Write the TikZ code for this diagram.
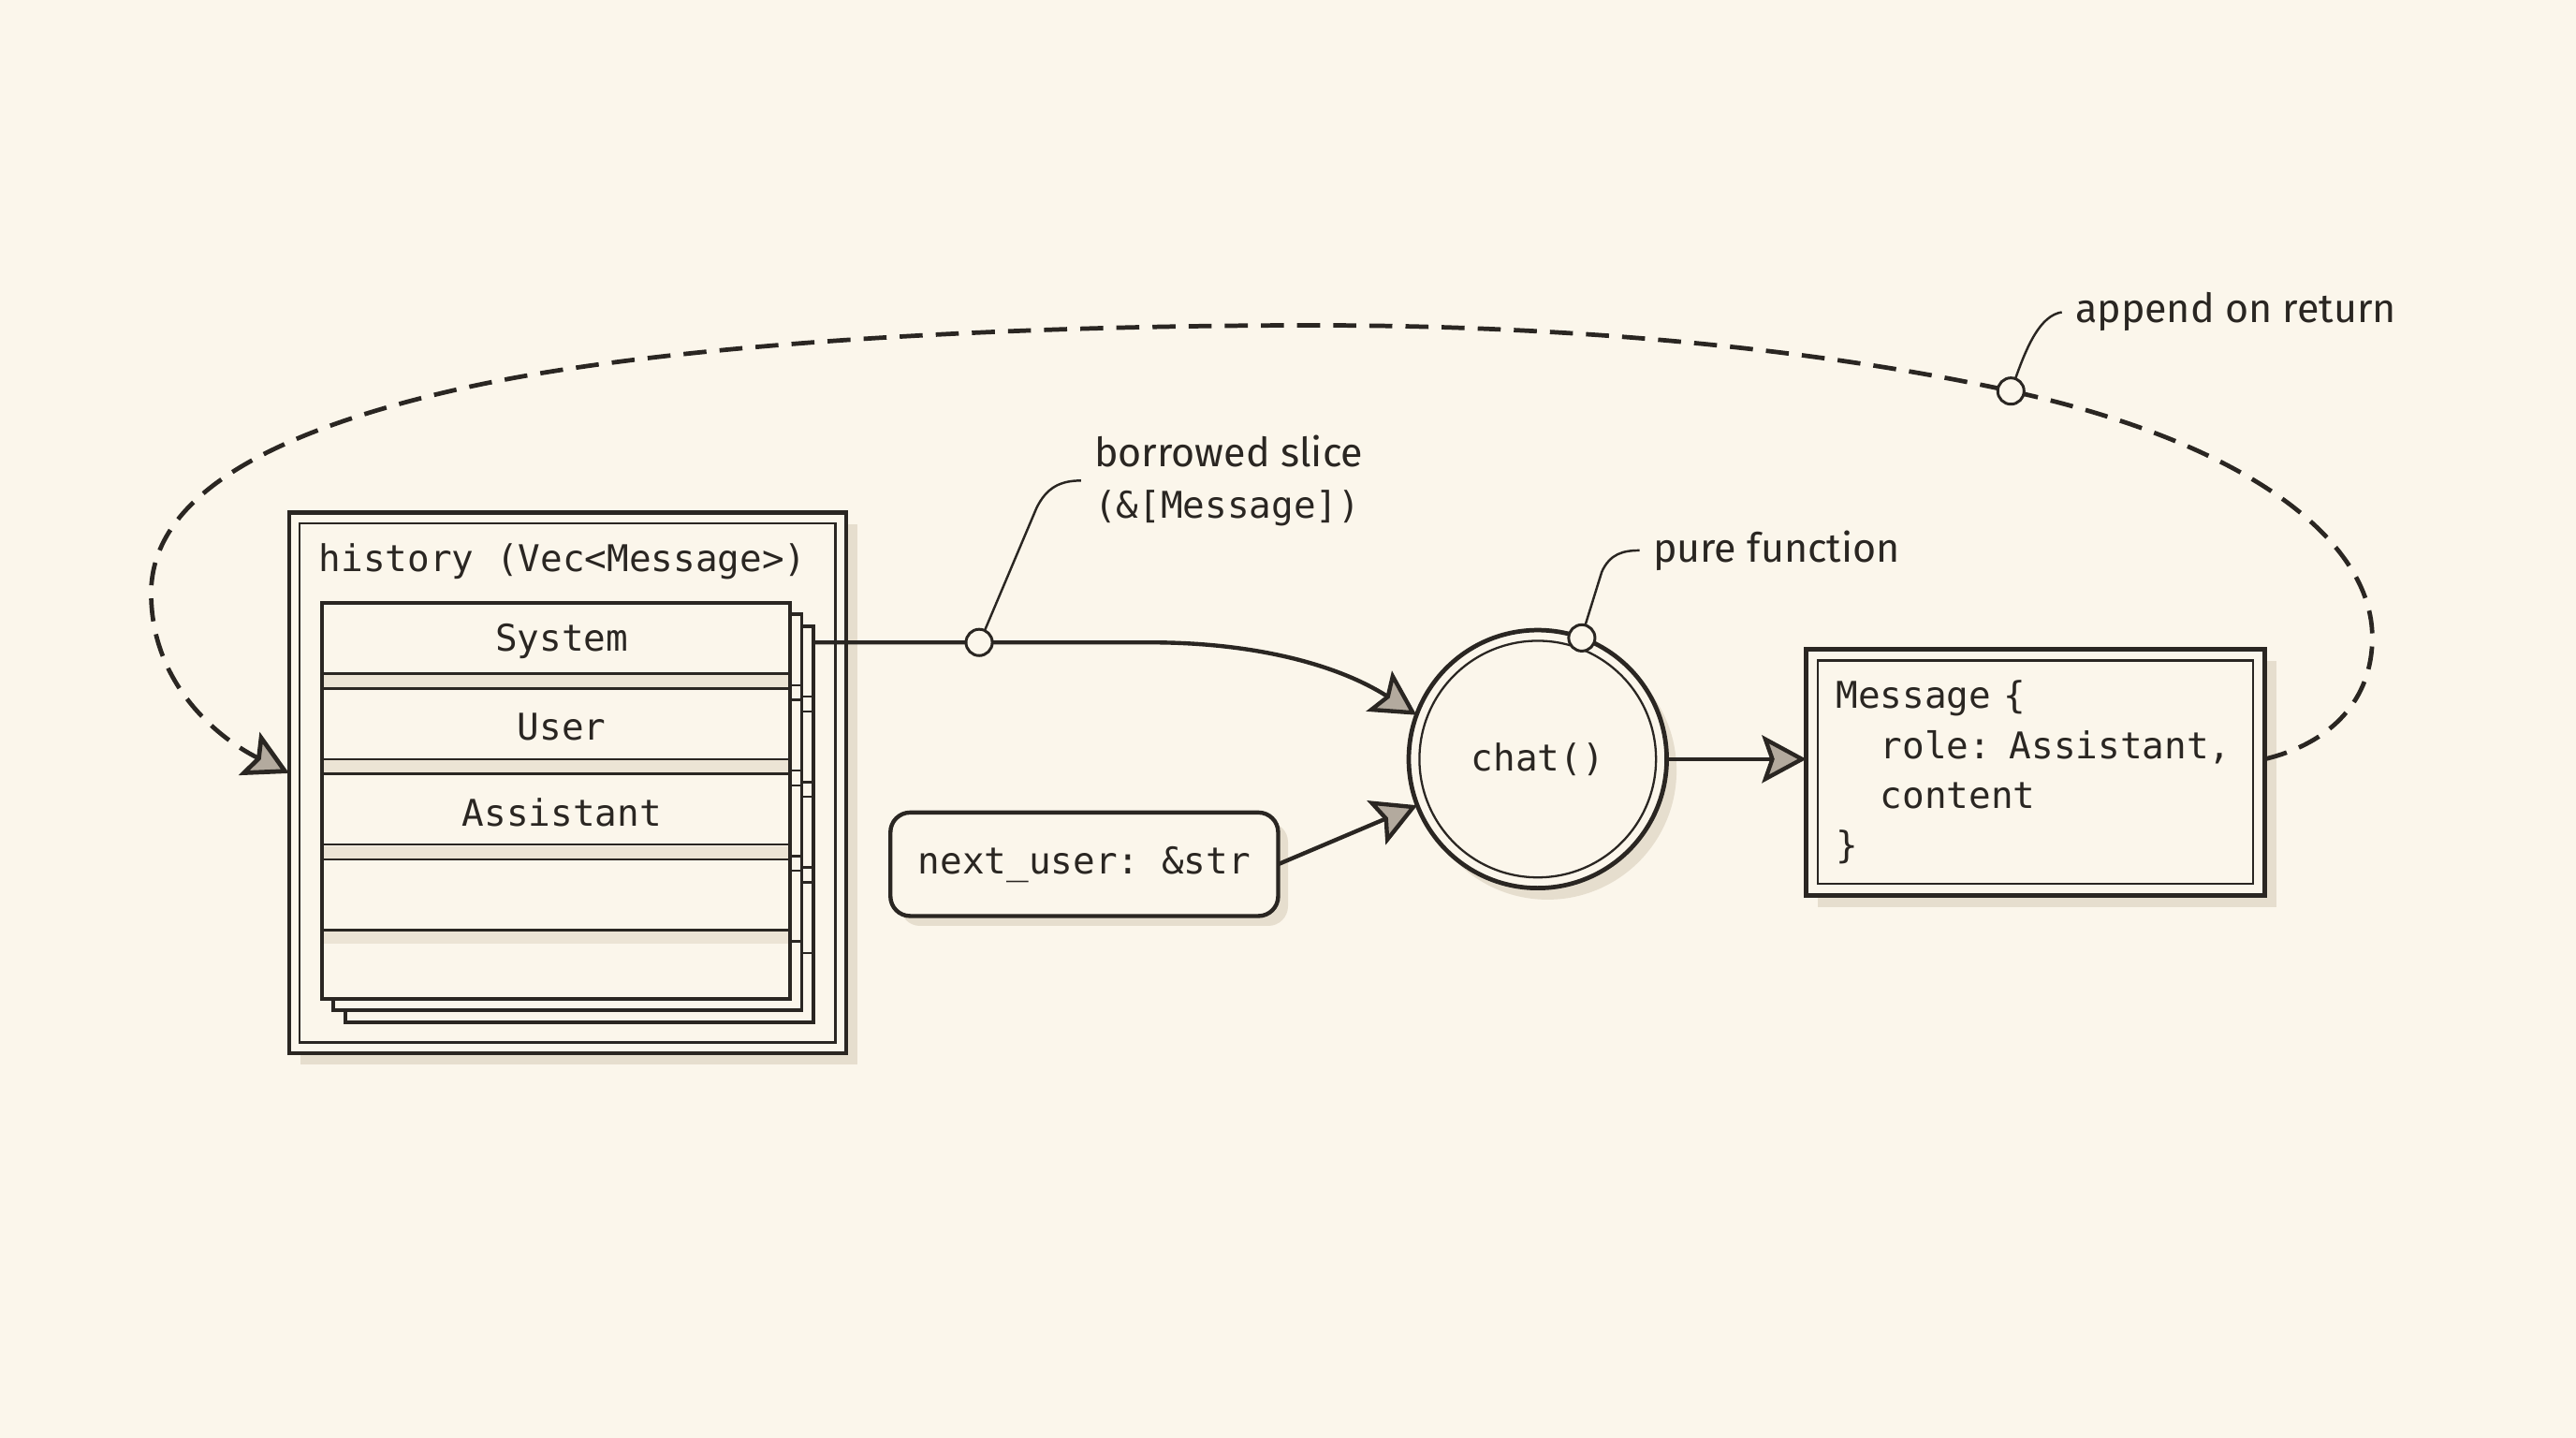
\documentclass[tikz,border=0pt]{standalone}
\usepackage{fontspec}
\setmainfont{Fira Sans}
\setmonofont{DejaVu Sans Mono}
\usetikzlibrary{arrows.meta,positioning,calc,shadows}
\usepackage{xcolor}
\definecolor{paper}{HTML}{FBF6EB}
\definecolor{ink}{HTML}{2A2622}
\definecolor{tipfill}{HTML}{B3AA9E}
\definecolor{shadowc}{HTML}{D9CEBC}
\definecolor{band}{HTML}{ECE4D5}
\newcommand\codetxt{\ttfamily\fontsize{22.4pt}{30.3pt}\selectfont}
\newcommand\notetxt{\fontsize{24.5pt}{31pt}\selectfont}
\tikzset{
  vecbox/.style   = {rectangle, draw=ink, line width=2.7pt, fill=paper, outer sep=0pt,
                     inner sep=0pt,
                     drop shadow={shadow xshift=7pt, shadow yshift=-7pt, opacity=.6, fill=shadowc}},
  innerline/.style= {draw=ink, line width=1.3pt},
  sheet/.style    = {rectangle, draw=ink, line width=2.2pt, fill=paper, outer sep=0pt,
                     minimum width=285pt, minimum height=241pt},
  sepline/.style  = {draw=ink, line width=1.4pt},
  codelbl/.style  = {font=\codetxt, text=ink, inner sep=0pt},
  fnnode/.style   = {circle, draw=ink, line width=2.7pt, fill=paper, outer sep=0pt,
                     minimum size=157pt, font=\codetxt, text=ink,
                     drop shadow={shadow xshift=6pt, shadow yshift=-7pt, opacity=.6, fill=shadowc}},
  argbox/.style   = {rectangle, rounded corners=12pt, draw=ink, line width=2.5pt, fill=paper,
                     outer sep=0pt, minimum width=236pt, minimum height=63pt,
                     font=\codetxt, text=ink,
                     drop shadow={shadow xshift=6pt, shadow yshift=-6pt, opacity=.6, fill=shadowc}},
  tapdot/.style   = {circle, draw=ink, line width=1.7pt, fill=paper, minimum size=16pt,
                     inner sep=0pt, outer sep=0pt},
  notelbl/.style  = {font=\notetxt, text=ink, inner xsep=8pt, inner ysep=3pt,
                     anchor=west, align=left},
  leaderline/.style = {draw=ink, line width=1.4pt},
  flow/.style     = {draw=ink, line width=2.5pt,
                     -{Stealth[length=27pt, width=29pt, inset=5pt, fill=tipfill]}},
  dflow/.style    = {flow, line width=2.7pt, dash pattern=on 14pt off 8pt},
}

\begin{document}
\begin{tikzpicture}[x=1pt, y=1pt, line join=miter]
  \fill[paper] (0,0) rectangle (1568,875);
  \useasboundingbox (0,0) rectangle (1568,875);

  % history vector
  \node[vecbox, minimum width=339pt, minimum height=329pt] (hist) at (345.5,398.5) {};
  \draw[innerline] ($(hist.north west)+(6.5,-6.5)$) rectangle ($(hist.south east)+(-6.5,6.5)$);
  \node[codelbl, anchor=west] (histtitle) at (194,533.5) {history (Vec<Message>)};

  % stacked sheets, back to front
  \foreach \dx/\pg in {14/3,7/2,0/1} {
    \node[sheet] (page\pg) at (338.5+\dx,387.5-\dx) {};
    \foreach \yy in {77.5,68.5,25.5,16.5,-26.5,-35.5,-78.5}
      \draw[sepline] ($(page\pg.west)+(0,\yy)$) -- ($(page\pg.east)+(0,\yy)$);
  }
  \foreach \yy in {69.3,17.3,-34.7}
    \fill[band] ($(page1.west)+(1.2,\yy)$) rectangle ($(page1.east)+(-1.2,\yy+7.4)$);
  \fill[band] ($(page1.west)+(1.2,-79.3)$) rectangle ($(page1.east)+(-1.2,-87)$);
  \foreach \lbl [count=\i] in {System,User,Assistant}
    \node[codelbl] (row\i) at (342,536.5-52*\i) {\lbl};

  % function and its inputs
  \node[fnnode] (chat) at (936,413) {chat()};
  \draw[innerline] (chat.center) circle (72);
  \node[argbox] (nxt) at (660,349) {next\_user: \&str};
  \node[vecbox, font=\codetxt, text=ink, right=85pt of chat, yshift=-8pt,
        minimum width=279pt, minimum height=150pt, text width=243pt,
        inner xsep=18pt, align=left] (msg)
    {Message \{\\\phantom{xx}role: Assistant,\\\phantom{xx}content\\\}};
  \draw[innerline] ($(msg.north west)+(7,-7)$) rectangle ($(msg.south east)+(-7,7)$);

  \coordinate (bend) at (700,484);
  \coordinate (ret) at (1224,637);
  \draw[flow] (page3.east |- bend) -- (bend) .. controls (765,484) and (815,470) .. (chat.160);
  \draw[flow] (nxt.east) -- (chat.201);
  \draw[flow] (chat.east) -- (msg.west |- chat);
  \draw[dflow] (msg.east |- chat) .. controls (1420,423) and (1444,450) .. (1444,487)
    .. controls (1444,545) and (1370,605) .. (ret)
    .. controls (1100,664) and (950,677) .. (800,677)
    .. controls (600,677) and (400,665) .. (283,639)
    .. controls (170,614) and (92,575) .. (92,514)
    .. controls (92,455) and (138,423) .. (hist.178);

  % annotations
  \node[tapdot] (m1) at (596,484) {};
  \node[tapdot] (m2) at (chat.70) {};
  \node[tapdot] (m3) at (ret) {};
  \node[notelbl] (slice) at (658,582.5) {borrowed slice\\{\codetxt (\&[Message])}};
  \node[notelbl] (pure) at (998,540) {pure function};
  \node[notelbl] (append) at (1255,685) {append on return};
  \draw[leaderline] (m1.65) -- (631,566) .. controls (637,578) and (645,582.5) .. (slice.west);
  \draw[leaderline] (m2.75) -- (975,527) .. controls (980,538) and (988,540) .. (pure.west);
  \draw[leaderline] (m3.70) .. controls (1234,665) and (1242,683) .. (append.west);
\end{tikzpicture}
\end{document}
